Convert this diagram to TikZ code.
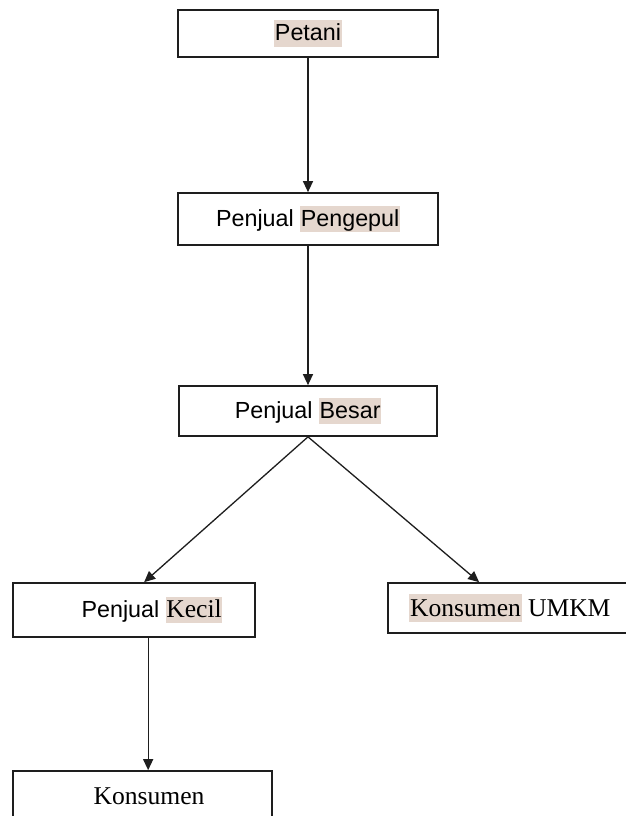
\documentclass[tikz,border=0pt]{standalone}
\usepackage{fontspec}
\setmainfont{Liberation Sans}
\newfontfamily\tms{Liberation Serif}
\usetikzlibrary{arrows.meta,calc}
\definecolor{hlc}{RGB}{229,215,206}
\definecolor{ink}{RGB}{30,30,30}
\newcommand{\hl}[1]{{\setlength{\fboxsep}{0.6pt}\colorbox{hlc}{\rule[-0.22em]{0pt}{1.08em}#1}}}
\newcommand{\sfz}{\fontsize{23.3}{28}\selectfont}
\newcommand{\tmz}{\tms\fontsize{25.6}{30}\selectfont}
\begin{document}
\begin{tikzpicture}[x=1pt,y=-1pt,
  box/.style={draw=ink,line width=1.7pt,rectangle,inner sep=0pt,font=\sfz,text=black},
  lbl/.style={inner sep=0pt,font=\sfz,text=black},
  arr/.style={draw=ink,line width=1.3pt,-{Triangle[width=10pt,length=11pt]}}]
\clip (0,0) rectangle (626,816);
\node[box,minimum width=260pt,minimum height=47pt] (petani) at (308,33.5) {\hl{Petani}};
\node[box,minimum width=260pt,minimum height=52pt] (pengepul) at (308,219) {Penjual \hl{Pengepul}};
\node[box,minimum width=258pt,minimum height=50pt] (besar) at (308,411) {Penjual \hl{Besar}};
\node[box,minimum width=242pt,minimum height=54pt] (kecil) at (134,610) {};
\node[lbl] (kecilt) at (152,610) {Penjual \hl{\tmz Kecil}};
\node[box,minimum width=244pt,minimum height=50pt] (umkm) at (510,608) {\tmz\hl{Konsumen} UMKM};
\node[box,minimum width=259pt,minimum height=50pt] (konsumen) at (142.5,796) {};
\node[lbl,font=\tmz] (konsument) at (149,796) {Konsumen};
\draw[arr] (petani) -- (pengepul);
\draw[arr] (pengepul) -- (besar);
\coordinate (kin) at ($(kecil.north west)+(132,0)$);
\coordinate (uin) at ($(umkm.north west)+(92,0)$);
\draw[arr] (besar.south) -- (kin);
\draw[arr] (besar.south) -- (uin);
\coordinate (kout) at ($(kecil.south west)+(136,0)$);
\coordinate (kinb) at ($(konsumen.north west)+(136,0)$);
\draw[arr] (kout) -- (kinb);
\end{tikzpicture}
\end{document}
